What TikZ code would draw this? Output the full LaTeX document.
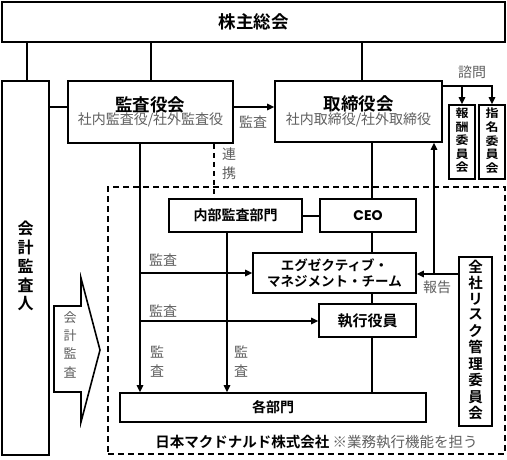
\documentclass[tikz,border=0pt]{standalone}
\usepackage{fontspec}
\usepackage{graphicx}
\setmainfont{Noto Sans CJK JP}[BoldFont={Noto Sans CJK JP Bold}]
\newfontfamily\ceofont{Poppins}[BoldFont={Poppins Bold}]
\usetikzlibrary{arrows.meta,calc}
\definecolor{txtgray}{RGB}{95,95,95}
\tikzset{
  box/.style={draw, line width=1.7pt, fill=white, inner sep=0pt, align=center},
  conn/.style={line width=1.5pt},
  arr/.style={conn,-{Triangle[length=7pt,width=6.5pt]}},
  lbl/.style={text=txtgray, font=\fontsize{14}{16}\selectfont, inner sep=0pt},
  vlbl/.style={text=txtgray, inner sep=0pt, align=center},
}
\begin{document}
\begin{tikzpicture}[x=1pt,y=-1pt]
\useasboundingbox (0,0) rectangle (507,459);
% company frame
\node[draw, dashed, dash pattern=on 6pt off 4pt, line width=1.6pt, minimum width=397pt, minimum height=267pt, inner sep=0pt] (company) at (306.5,320.5) {};

% boxes
\node[box, minimum width=503pt, minimum height=40pt, font=\fontsize{17.5}{20}\selectfont\bfseries] (top) at (253.5,22) {株主総会};
\node[box, minimum width=47pt, minimum height=374pt] (kaikei) at (25.5,268)
  {\fontsize{16}{17.8}\selectfont\bfseries\begin{tabular}{@{}c@{}}会\\計\\監\\査\\人\end{tabular}};
\node[box, minimum width=165pt, minimum height=62pt] (kansa) at (150.5,112)
  {{\fontsize{17.5}{19}\selectfont\bfseries 監査役会}\\[-1pt]{\fontsize{14}{16}\selectfont\color{txtgray}社内監査役/社外監査役}};
\node[box, minimum width=167pt, minimum height=61pt] (torishimari) at (358.5,111.5)
  {{\fontsize{17.5}{19}\selectfont\bfseries 取締役会}\\[-1pt]{\fontsize{14}{16}\selectfont\color{txtgray}社内取締役/社外取締役}};
\node[box, minimum width=26pt, minimum height=74pt] (hoshu) at (462,142)
  {\scalebox{1}[0.88]{\fontsize{13}{14.8}\selectfont\bfseries\begin{tabular}{@{}c@{}}報\\酬\\委\\員\\会\end{tabular}}};
\node[box, minimum width=26pt, minimum height=74pt] (shimei) at (492,142)
  {\scalebox{1}[0.88]{\fontsize{13}{14.8}\selectfont\bfseries\begin{tabular}{@{}c@{}}指\\名\\委\\員\\会\end{tabular}}};
\node[box, minimum width=133pt, minimum height=33pt, font=\fontsize{14}{16}\selectfont\bfseries] (naibu) at (235.5,215.5) {内部監査部門};
\node[box, minimum width=96pt, minimum height=33pt, font=\fontsize{14}{16}\selectfont\ceofont\bfseries] (ceo) at (368,215.5) {CEO};
\node[box, minimum width=163pt, minimum height=40pt, font=\fontsize{13.5}{15.5}\selectfont\bfseries] (exec) at (334.5,273)
  {エグゼクティブ・\\マネジメント・チーム};
\node[box, minimum width=33pt, minimum height=169pt] (risk) at (475.5,341.5)
  {\fontsize{14.5}{14.7}\selectfont\bfseries\begin{tabular}{@{}c@{}}全\\社\\リ\\ス\\ク\\管\\理\\委\\員\\会\end{tabular}};
\node[box, minimum width=97pt, minimum height=33pt, font=\fontsize{15}{17}\selectfont\bfseries] (shikko) at (367.5,320.5) {執行役員};
\node[box, minimum width=306pt, minimum height=29pt, font=\fontsize{14}{16}\selectfont\bfseries] (kakubumon) at (273,407.5) {各部門};

% accounting audit arrow shape
\draw[line width=1.6pt, fill=white] (54,306) -- (81,306) -- (81,278) -- (100,350) -- (81,422) -- (81,392) -- (54,392) -- cycle;
\node[vlbl, font=\fontsize{13}{18.3}\selectfont] (kaikeikansa) at (70,346) {\begin{tabular}{@{}c@{}}会\\計\\監\\査\end{tabular}};

% helper coordinates
\coordinate (xa) at (27,0);
\coordinate (xb) at (151,0);
\coordinate (xc) at (362,0);
\coordinate (xd) at (140,0);
\coordinate (xe) at (227,0);
\coordinate (xf) at (372,0);
\coordinate (xg) at (434,0);
\coordinate (xk) at (214,0);
\coordinate (ya) at (0,107);
\coordinate (yb) at (0,86);
\coordinate (yc) at (0,273);
\coordinate (yd) at (0,321);
\coordinate (ye) at (0,216);
\coordinate (yf) at (0,274);

% connectors
\draw[conn] (top.south -| xa) -- (kaikei.north -| xa);
\draw[conn] (top.south -| xb) -- (kansa.north -| xb);
\draw[conn] (top.south -| xc) -- (torishimari.north -| xc);
\draw[conn] (kaikei.east |- ya) -- (kansa.west |- ya);
\draw[arr] (kansa.east |- ya) -- (torishimari.west |- ya);
\draw[arr] (torishimari.east |- yb) -| (shimei.north);
\draw[arr] (hoshu.north |- yb) -- (hoshu.north);
\draw[conn, dashed, dash pattern=on 5pt off 4pt] (kansa.south -| xk) -- (naibu.north -| xk);
\draw[arr] (kansa.south -| xd) -- (kakubumon.north -| xd);
\draw[arr] (xd |- yc) -- (exec.west |- yc);
\draw[arr] (xd |- yd) -- (shikko.west |- yd);
\draw[arr] (naibu.south -| xe) -- (kakubumon.north -| xe);
\draw[conn] (naibu.east |- ye) -- (ceo.west |- ye);
\draw[conn] (torishimari.south -| xf) -- (ceo.north -| xf);
\draw[conn] (ceo.south -| xf) -- (exec.north -| xf);
\draw[conn] (exec.south -| xf) -- (shikko.north -| xf);
\draw[conn] (shikko.south -| xf) -- (kakubumon.north -| xf);
\draw[arr] (risk.west |- yf) -- (exec.east |- yf);
\draw[arr] (xg |- yf) -- (torishimari.south -| xg);

% labels
\node[lbl] (l1) at (253,122) {監査};
\node[lbl] (l2) at (472,72) {諮問};
\node[vlbl, font=\fontsize{14}{19}\selectfont] (l3) at (229,165.5) {\begin{tabular}{@{}c@{}}連\\携\end{tabular}};
\node[lbl] (l4) at (163,260) {監査};
\node[lbl] (l5) at (163,311) {監査};
\node[vlbl, font=\fontsize{14}{19}\selectfont] (l6) at (157,363.5) {\begin{tabular}{@{}c@{}}監\\査\end{tabular}};
\node[vlbl, font=\fontsize{14}{19}\selectfont] (l7) at (241,363.5) {\begin{tabular}{@{}c@{}}監\\査\end{tabular}};
\node[lbl] (l8) at (437,287) {報告};
\node[inner sep=0pt, font=\fontsize{14.5}{16}\selectfont] (caption) at (316.5,442) {{\bfseries 日本マクドナルド株式会社} {\color{txtgray}※業務執行機能を担う}};
\end{tikzpicture}
\end{document}
